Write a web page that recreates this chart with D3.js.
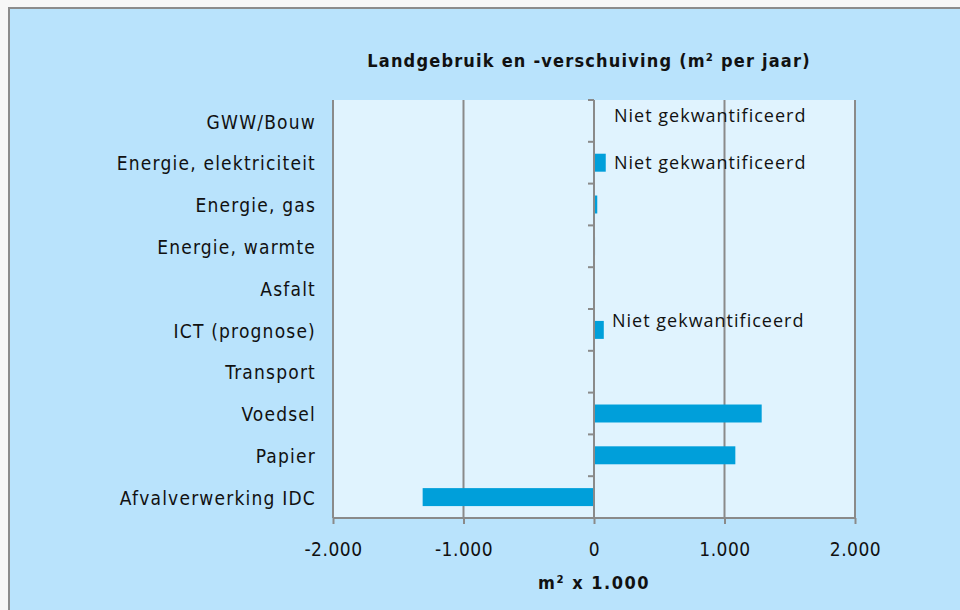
<!DOCTYPE html>
<html>
<head>
<meta charset="utf-8">
<script src="https://cdn.jsdelivr.net/npm/d3@7"></script>
<style>
  html, body { margin: 0; padding: 0; background: #f7f7f7; }
  svg { display: block; }
</style>
</head>
<body>
<div id="chart"></div>
<script>
// ---- Data ----
const categories = [
  'GWW/Bouw',
  'Energie, elektriciteit',
  'Energie, gas',
  'Energie, warmte',
  'Asfalt',
  'ICT (prognose)',
  'Transport',
  'Voedsel',
  'Papier',
  'Afvalverwerking IDC'
];
// m2 x 1.000 per jaar
const values = [0, 90, 25, 8, 0, 75, 0, 1285, 1083, -1313];
const xTicks = [-2000, -1000, 0, 1000, 2000];
const noteCategories = ['GWW/Bouw', 'Energie, elektriciteit', 'ICT (prognose)'];
const noteText = 'Niet gekwantificeerd';
const title = 'Landgebruik en -verschuiving (m² per jaar)';
const xTitle = 'm² x 1.000';

// ---- Layout ----
const width = 960, height = 610;
const plot = { left: 333, right: 855, top: 100, bottom: 518 };
const labelFont = '"DejaVu Sans Condensed", "DejaVu Sans", sans-serif';
const noteFont = '"Open Sans", "Noto Sans", sans-serif';
const gridColor = '#8a8a8a';

const svg = d3.select('#chart').append('svg')
  .attr('width', width)
  .attr('height', height);

// frame
svg.append('rect')
  .attr('x', 9).attr('y', 8)
  .attr('width', width + 10).attr('height', height + 10)
  .attr('fill', '#b9e3fc')
  .attr('stroke', '#8c8c8c')
  .attr('stroke-width', 2);

// plot area background
svg.append('rect')
  .attr('x', plot.left).attr('y', plot.top)
  .attr('width', plot.right - plot.left)
  .attr('height', plot.bottom - plot.top)
  .attr('fill', '#e0f3fe');

// ---- Scales ----
const x = d3.scaleLinear()
  .domain([-2000, 2000])
  .range([plot.left, plot.right]);

const y = d3.scaleBand()
  .domain(categories)
  .range([plot.top, plot.bottom])
  .paddingInner(0.57)
  .paddingOuter(0.285);

const step = y.step();

// ---- Vertical gridlines ----
svg.append('g')
  .selectAll('line')
  .data(xTicks.filter(d => d !== 0))
  .join('line')
  .attr('x1', d => x(d)).attr('x2', d => x(d))
  .attr('y1', plot.top).attr('y2', plot.bottom)
  .attr('stroke', gridColor)
  .attr('stroke-width', 2);

// ---- Bars ----
svg.append('g')
  .selectAll('rect')
  .data(categories.map((c, i) => ({ c, v: values[i] })).filter(d => d.v !== 0))
  .join('rect')
  .attr('x', d => x(Math.min(0, d.v)))
  .attr('y', d => y(d.c))
  .attr('width', d => Math.max(1, Math.abs(x(d.v) - x(0))))
  .attr('height', y.bandwidth())
  .attr('fill', '#009fda');

// ---- Y axis at zero (ticks on band boundaries) ----
const boundaries = d3.range(categories.length + 1).map(i => plot.top + i * step);
const yAxisG = svg.append('g');
yAxisG.append('line')
  .attr('x1', x(0)).attr('x2', x(0))
  .attr('y1', plot.top).attr('y2', plot.bottom)
  .attr('stroke', gridColor).attr('stroke-width', 2);
yAxisG.selectAll('.ytick')
  .data(boundaries)
  .join('line')
  .attr('class', 'ytick')
  .attr('x1', x(0) - 6).attr('x2', x(0))
  .attr('y1', d => d).attr('y2', d => d)
  .attr('stroke', gridColor).attr('stroke-width', 2);

// category labels
svg.append('g')
  .selectAll('text')
  .data(categories)
  .join('text')
  .attr('x', 316)
  .attr('y', d => y(d) + y.bandwidth() / 2 + 1)
  .attr('dy', '0.35em')
  .attr('text-anchor', 'end')
  .attr('font-family', labelFont)
  .attr('font-size', 19)
  .attr('letter-spacing', 1.2)
  .attr('fill', '#111')
  .text(d => d);

// ---- X axis ----
const xAxis = d3.axisBottom(x)
  .tickValues(xTicks)
  .tickSize(6)
  .tickFormat(d => d3.format(',')(d).replace(/,/g, '.').replace('−', '-'));

const xAxisG = svg.append('g')
  .attr('transform', `translate(0,${plot.bottom})`)
  .call(xAxis);
xAxisG.select('.domain')
  .attr('d', `M${plot.left},0H${plot.right}`)
  .attr('stroke', gridColor).attr('stroke-width', 2);
xAxisG.selectAll('.tick line')
  .attr('stroke', gridColor).attr('stroke-width', 2);
xAxisG.selectAll('.tick text')
  .attr('y', 31)
  .attr('dy', '0.35em')
  .attr('font-family', labelFont)
  .attr('font-size', 19)
  .attr('letter-spacing', 0.5)
  .attr('fill', '#111');

// ---- Notes ----
const noteOffset = { 'GWW/Bouw': -5, 'Energie, elektriciteit': 0, 'ICT (prognose)': -9 };
svg.append('g')
  .selectAll('text')
  .data(noteCategories)
  .join('text')
  .attr('x', d => d === 'ICT (prognose)' ? x(0) + 18 : x(0) + 20)
  .attr('y', d => y(d) + y.bandwidth() / 2 + noteOffset[d])
  .attr('dy', '0.35em')
  .attr('font-family', noteFont)
  .attr('font-size', 18)
  .attr('letter-spacing', 1)
  .attr('fill', '#111')
  .text(noteText);

// ---- Titles ----
svg.append('text')
  .attr('x', 589).attr('y', 61)
  .attr('dy', '0.35em')
  .attr('text-anchor', 'middle')
  .attr('font-family', labelFont)
  .attr('font-weight', 'bold')
  .attr('font-size', 18)
  .attr('letter-spacing', 1.2)
  .attr('fill', '#111')
  .text(title);

svg.append('text')
  .attr('x', x(0)).attr('y', 583)
  .attr('dy', '0.35em')
  .attr('text-anchor', 'middle')
  .attr('font-family', labelFont)
  .attr('font-weight', 'bold')
  .attr('font-size', 18)
  .attr('letter-spacing', 1.5)
  .attr('fill', '#111')
  .text(xTitle);
</script>
</body>
</html>
